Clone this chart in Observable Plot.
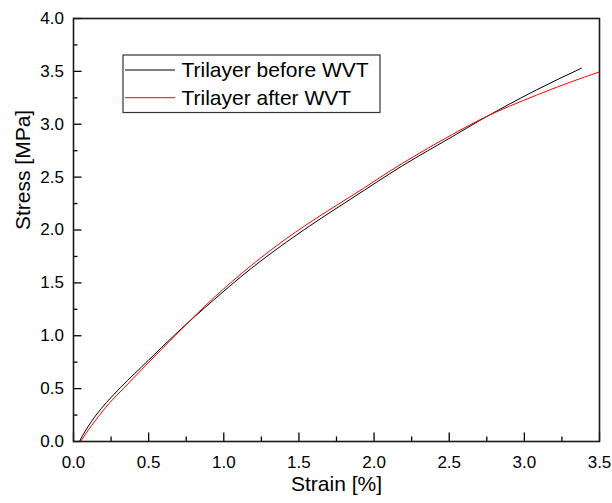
<!DOCTYPE html>
<html>
<head>
<meta charset="utf-8">
<script src="https://cdn.jsdelivr.net/npm/d3@7"></script>
<script src="https://cdn.jsdelivr.net/npm/@observablehq/plot@0.6"></script>
<style>
  html, body { margin: 0; padding: 0; background: #fff; }
  #chart svg { display: block; }
</style>
</head>
<body>
<div id="chart"></div>
<script>
// Series
const strainBefore = [0.04, 0.06, 0.09, 0.15, 0.22, 0.313, 0.50, 0.675, 0.938, 1.183, 1.418, 1.652, 1.853, 2.188, 2.523, 2.70, 2.90, 3.081, 3.38];
const stressBefore = [0, 0.055, 0.125, 0.25, 0.37, 0.51, 0.77, 1.01, 1.345, 1.637, 1.887, 2.115, 2.30, 2.607, 2.885, 3.033, 3.19, 3.325, 3.53];
const strainAfter = [0.048, 0.08, 0.12, 0.165, 0.24, 0.335, 0.51, 0.675, 0.938, 1.183, 1.418, 1.652, 1.853, 2.188, 2.523, 2.70, 2.90, 3.081, 3.30, 3.5];
const stressAfter = [0, 0.07, 0.15, 0.235, 0.365, 0.505, 0.763, 1.0, 1.365, 1.665, 1.92, 2.145, 2.325, 2.63, 2.905, 3.04, 3.17, 3.275, 3.395, 3.495];
const seriesNames = ["Trilayer before WVT", "Trilayer after WVT"];
const seriesColors = ["#000000", "#ff0000"];
const xMajor = [0, 0.5, 1.0, 1.5, 2.0, 2.5, 3.0, 3.5];
const xMinor = [0.25, 0.75, 1.25, 1.75, 2.25, 2.75, 3.25];
const yMajor = [0, 0.5, 1.0, 1.5, 2.0, 2.5, 3.0, 3.5, 4.0];
const yMinor = [0.25, 0.75, 1.25, 1.75, 2.25, 2.75, 3.25, 3.75];
const xLabel = "Strain [%]";
const yLabel = "Stress [MPa]";

const before = strainBefore.map((x, i) => ({x, y: stressBefore[i]}));
const after = strainAfter.map((x, i) => ({x, y: stressAfter[i]}));

const W = 612, H = 503;
const mL = 73, mR = 13, mT = 18, mB = 62;
const pw = W - mL - mR, ph = H - mT - mB;
const font = "'Liberation Sans', Arial, sans-serif";

const chart = Plot.plot({
  width: W, height: H,
  marginLeft: mL, marginRight: mR, marginTop: mT, marginBottom: mB,
  style: {fontFamily: font, fontSize: "17px", color: "#000", background: "#fff"},
  x: {domain: [0, 3.5]},
  y: {domain: [0, 4.0]},
  marks: [
    Plot.line(before, {x: "x", y: "y", stroke: seriesColors[0], strokeWidth: 1, curve: "monotone-x"}),
    Plot.line(after, {x: "x", y: "y", stroke: seriesColors[1], strokeWidth: 1, curve: "monotone-x", clip: true}),
    // inward ticks
    Plot.tickX(xMajor, {x: d => d, insetTop: ph - 8.5, stroke: "#000", strokeWidth: 1.3}),
    Plot.tickX(xMinor, {x: d => d, insetTop: ph - 4.5, stroke: "#000", strokeWidth: 1.3}),
    Plot.tickY(yMajor, {y: d => d, insetRight: pw - 8.5, stroke: "#000", strokeWidth: 1.3}),
    Plot.tickY(yMinor, {y: d => d, insetRight: pw - 4.5, stroke: "#000", strokeWidth: 1.3}),
    Plot.axisX(xMajor, {tickSize: 0, tickPadding: 14, tickFormat: d3.format(".1f"), label: null, fontSize: 17}),
    Plot.axisY(yMajor, {tickSize: 0, tickPadding: 9.5, tickFormat: d3.format(".1f"), label: null, fontSize: 17}),
    Plot.frame({stroke: "#1a1a1a", strokeWidth: 1.6}),
    Plot.text([xLabel], {frameAnchor: "bottom", dy: 49.5, fontSize: 21, fill: "#000"}),
    Plot.text([yLabel], {frameAnchor: "left", dx: -50, rotate: -90, fontSize: 21, fill: "#000"})
  ]
});

document.getElementById("chart").appendChild(chart);

// Legend overlay
const svg = d3.select(chart);
const g = svg.append("g").attr("font-family", font).attr("font-size", 21).attr("text-anchor", "start");
g.append("rect").attr("x", 123).attr("y", 55).attr("width", 257).attr("height", 57.5)
  .attr("fill", "#fff").attr("stroke", "#333").attr("stroke-width", 1.2);
const rowY = [70, 97.7];
seriesNames.forEach((name, i) => {
  g.append("line").attr("x1", 125).attr("x2", 175).attr("y1", rowY[i]).attr("y2", rowY[i])
    .attr("stroke", seriesColors[i]).attr("stroke-width", 1);
  g.append("text").attr("x", 181.5).attr("y", rowY[i]).attr("dy", "0.34em")
    .attr("text-anchor", "start").attr("fill", "#000").text(name);
});
</script>
</body>
</html>
